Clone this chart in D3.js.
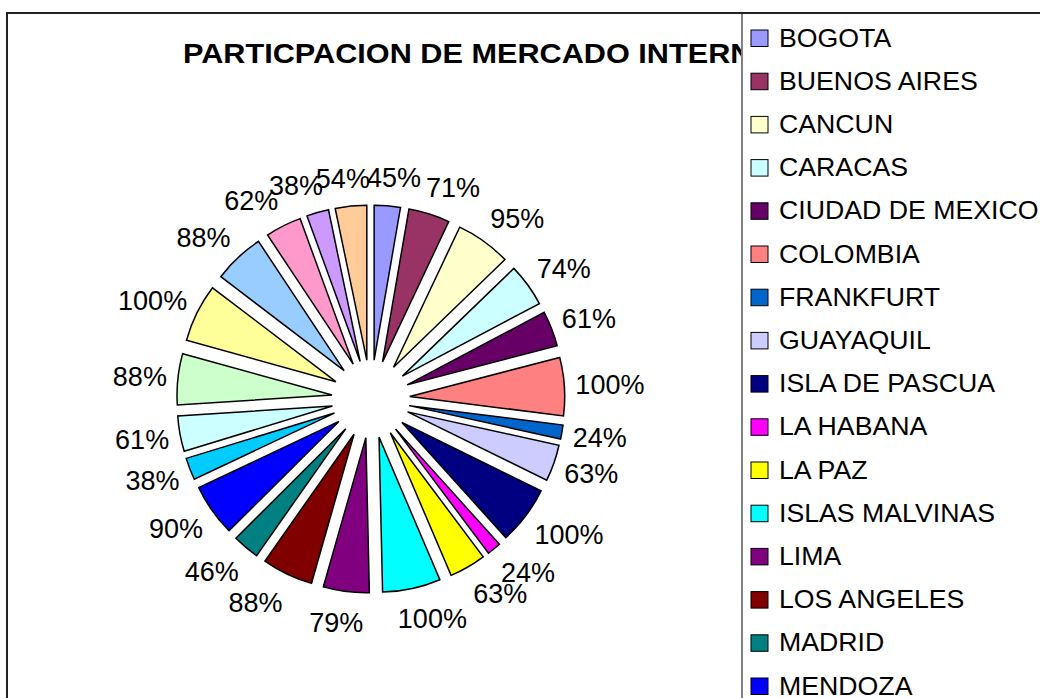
<!DOCTYPE html>
<html>
<head>
<meta charset="utf-8">
<script src="https://cdn.jsdelivr.net/npm/d3@7"></script>
<style>
  body { margin: 0; background: #fff; }
  svg { display: block; font-family: Arial, "Liberation Sans", sans-serif; }
</style>
</head>
<body>
<svg class="chart" width="1040" height="698"></svg>
<script>
// datos del grafico
const ciudades = ['BOGOTA', 'BUENOS AIRES', 'CANCUN', 'CARACAS', 'CIUDAD DE MEXICO', 'COLOMBIA',
    'FRANKFURT', 'GUAYAQUIL', 'ISLA DE PASCUA', 'LA HABANA', 'LA PAZ', 'ISLAS MALVINAS',
    'LIMA', 'LOS ANGELES', 'MADRID', 'MENDOZA', 'MIAMI', 'MONTEVIDEO', 'NUEVA YORK',
    'PARIS', 'PUNTA CANA', 'RIO DE JANEIRO', 'SAO PAULO', 'SYDNEY']
const participacion = [45, 71, 95, 74, 61, 100, 24, 63, 100, 24, 63, 100,
    79, 88, 46, 90, 38, 61, 88, 100, 88, 62, 38, 54]
const colores = ['#9999FF', '#993366', '#FFFFCC', '#CCFFFF', '#660066', '#FF8080',
    '#0066CC', '#CCCCFF', '#000080', '#FF00FF', '#FFFF00', '#00FFFF',
    '#800080', '#800000', '#008080', '#0000FF', '#00CCFF', '#CCFFFF',
    '#CCFFCC', '#FFFF99', '#99CCFF', '#FF99CC', '#CC99FF', '#FFCC99']
const titulo = 'PARTICPACION DE MERCADO INTERNACIONAL'

const svg = d3.select('.chart')
const cx = 370.8, cy = 399
const radio = 155
const explosion = 39

// marco del grafico
svg.append('path')
    .attr('d', 'M7,698 L7,13 L1040,13')
    .attr('fill', 'none')
    .attr('stroke', '#222')
    .attr('stroke-width', 2)

svg.append('text')
    .text(titulo)
    .attr('transform', 'translate(183,63) scale(1.095,1)')
    .attr('font-size', '28px')
    .attr('font-weight', 'bold')
    .attr('fill', '#000')

const pie = d3.pie().sort(null).value(d => d)
const arc = d3.arc().innerRadius(0).outerRadius(radio)
const color = d3.scaleOrdinal(ciudades, colores)

const datos = pie(participacion).map((p, i) => ({...p, ciudad: ciudades[i]}))
const medio = d => (d.startAngle + d.endAngle) / 2

const torta = svg.append('g').attr('transform', `translate(${cx},${cy})`)

torta.selectAll('path')
    .data(datos)
    .join('path')
        .attr('d', arc)
        .attr('transform', d => `translate(${explosion * Math.sin(medio(d))},${-explosion * Math.cos(medio(d))})`)
        .attr('fill', d => color(d.ciudad))
        .attr('stroke', '#000')
        .attr('stroke-width', 1.5)

// etiquetas de porcentaje
const d0 = 205
torta.selectAll('text')
    .data(datos)
    .join('text')
        .text(d => d.data + '%')
        .attr('font-size', '27px')
        .attr('fill', '#000')
        .attr('text-anchor', 'middle')
        .each(function(d) {
            const a = medio(d)
            const s = Math.sin(a), c = Math.cos(a)
            const w = this.getComputedTextLength()
            const k = Math.max(-1, Math.min(1, 2.5 * s))
            const x = d0 * s + k * w / 2
            const y = -c * (d0 + (c > 0 ? 17 : 20))
            d3.select(this).attr('x', x).attr('y', y + 9.5)
        })

// leyenda
const leyenda = svg.append('g')
leyenda.append('rect')
    .attr('x', 742)
    .attr('y', 13)
    .attr('width', 320)
    .attr('height', 1100)
    .attr('fill', '#fff')
    .attr('stroke', '#808080')
    .attr('stroke-width', 2)

const fila = d3.scaleLinear([0, 1], [46.5, 89.7])
const item = leyenda.selectAll('g.item')
    .data(ciudades)
    .join('g')
        .attr('class', 'item')
        .attr('transform', (d, i) => `translate(0,${fila(i)})`)

item.append('rect')
    .attr('x', 751)
    .attr('y', -16.5)
    .attr('width', 17)
    .attr('height', 16.5)
    .attr('fill', d => color(d))
    .attr('stroke', '#000')
    .attr('stroke-width', 1)

item.append('text')
    .text(d => d)
    .attr('x', 779)
    .attr('y', 0)
    .attr('font-size', '26.7px')
    .attr('fill', '#000')

svg.append('line')
    .attr('x1', 7).attr('x2', 1040)
    .attr('y1', 13).attr('y2', 13)
    .attr('stroke', '#222')
    .attr('stroke-width', 2)
</script>
</body>
</html>
